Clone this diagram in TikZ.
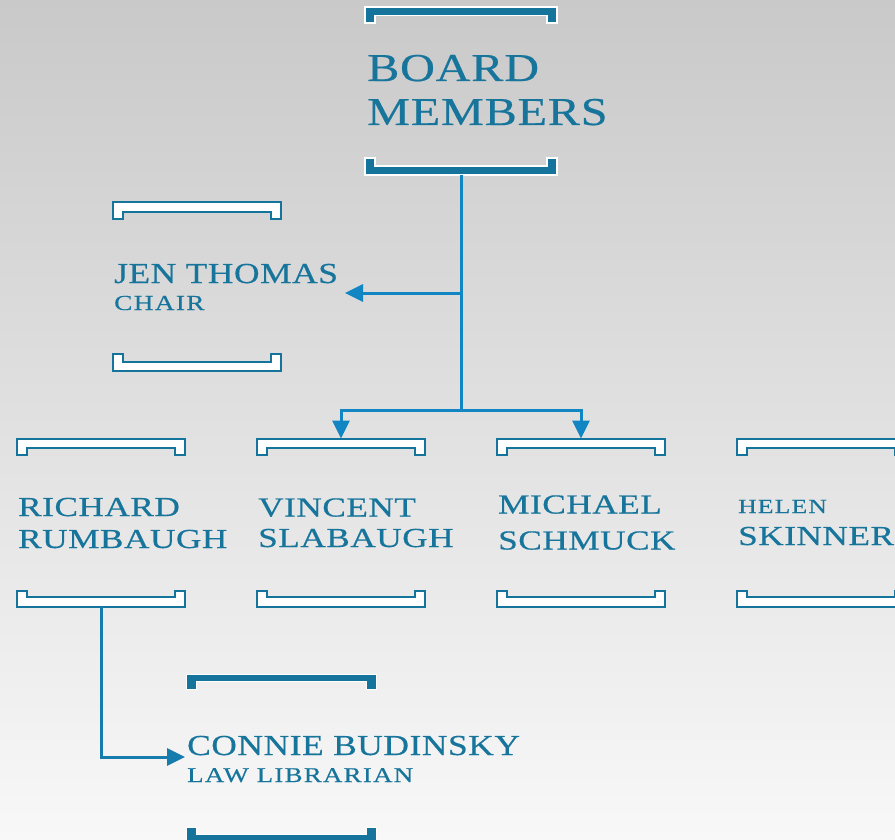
\documentclass[tikz,border=0pt]{standalone}
\usepackage{fontspec}
\newfontfamily\eng[FakeStretch=1.22,FakeBold=0.5,LetterSpace=2]{Liberation Serif}
\newfontfamily\engw[FakeStretch=1.28,FakeBold=0.5,LetterSpace=2]{Liberation Serif}
\newfontfamily\engs[FakeStretch=1.28,FakeBold=0.5,LetterSpace=6]{Liberation Serif}
\usetikzlibrary{arrows.meta}
\definecolor{bgtop}{HTML}{C9C9C9}
\definecolor{bgbot}{HTML}{F8F8F8}
\definecolor{txtteal}{HTML}{17759C}
\definecolor{brkteal}{HTML}{14749C}
\definecolor{lineblue}{HTML}{1186C2}
\definecolor{linedeep}{HTML}{167CAE}
\newcommand{\topbrk}[6]{% x1,x2,ytop,h,t,style
  \path[#6] (#1,#3) -- (#2,#3) -- (#2,#3+#4) -- (#2-10,#3+#4) -- (#2-10,#3+#5)
    -- (#1+10,#3+#5) -- (#1+10,#3+#4) -- (#1,#3+#4) -- cycle;}
\newcommand{\botbrk}[6]{% x1,x2,ybottom,h,t,style
  \path[#6] (#1,#3) -- (#2,#3) -- (#2,#3-#4) -- (#2-10,#3-#4) -- (#2-10,#3-#5)
    -- (#1+10,#3-#5) -- (#1+10,#3-#4) -- (#1,#3-#4) -- cycle;}
\begin{document}
\begin{tikzpicture}[x=1pt,y=-1pt,
  solidbrk/.style={fill=brkteal,draw=white,line width=1.4pt},
  openbrk/.style={fill=white,draw=brkteal,line width=2pt},
  plainbrk/.style={fill=brkteal,draw=white,line width=0.6pt},
  lbl/.style={anchor=base west,inner sep=0pt,text=txtteal},
  conn/.style={draw=lineblue,line width=3pt},
  arr/.style={conn,-{Triangle[length=18pt,width=17pt]}}]
\useasboundingbox (0,0) rectangle (895,840);
\begin{scope}
\clip (0,0) rectangle (895,840);
\shade[top color=bgtop,bottom color=bgbot] (0,0) rectangle (895,840);

% brackets
\topbrk{365}{557}{7}{16}{8.5}{solidbrk}
\botbrk{365}{557}{175}{17}{9}{solidbrk}
\topbrk{113}{281}{202}{17}{10}{openbrk}
\botbrk{113}{281}{371}{17}{9.5}{openbrk}
\foreach \xa in {17,257,497,737}{
  \topbrk{\xa}{\xa+168}{438.5}{16.5}{9}{openbrk}
  \botbrk{\xa}{\xa+168}{606.5}{16}{9.5}{openbrk}
}
\topbrk{186}{376}{674.5}{14.5}{7}{plainbrk}
\botbrk{186}{376}{845}{18}{11}{plainbrk}

% texts
\node[lbl,font={\eng\fontsize{39.5}{40}\selectfont}] (board1) at (367,81) {BOARD};
\node[lbl,font={\eng\fontsize{39.5}{40}\selectfont}] (board2) at (367,125) {MEMBERS};
\node[lbl,font={\eng\fontsize{29}{30}\selectfont}] (jen1) at (114,283) {JEN THOMAS};
\node[lbl,font={\engs\fontsize{21.4}{22}\selectfont}] (jen2) at (114,310) {CHAIR};
\node[lbl,font={\engw\fontsize{27.5}{28}\selectfont}] (ric1) at (18,516) {RICHARD};
\node[lbl,font={\engw\fontsize{27.5}{28}\selectfont}] (ric2) at (18,548) {RUMBAUGH};
\node[lbl,font={\engw\fontsize{27.5}{28}\selectfont}] (vin1) at (258,516.5) {VINCENT};
\node[lbl,font={\engw\fontsize{27.5}{28}\selectfont}] (vin2) at (258,547) {SLABAUGH};
\node[lbl,font={\engw\fontsize{27.5}{28}\selectfont}] (mic1) at (498,513.5) {MICHAEL};
\node[lbl,font={\engw\fontsize{27.5}{28}\selectfont}] (mic2) at (498,549.5) {SCHMUCK};
\node[lbl,font={\engs\fontsize{20}{21}\selectfont}] (hel1) at (738,513) {HELEN};
\node[lbl,font={\engw\fontsize{27.5}{28}\selectfont}] (hel2) at (738,545) {SKINNER};
\node[lbl,font={\eng\fontsize{29}{30}\selectfont}] (con1) at (187,755) {CONNIE BUDINSKY};
\node[lbl,font={\engs\fontsize{21}{22}\selectfont}] (con2) at (187,782) {LAW LIBRARIAN};

% connector anchors
\coordinate (bbot) at (461,175);
\coordinate (jpt) at (461,293);
\coordinate (jtip) at (345,293);
\coordinate (hbar) at (461,410);
\coordinate (vtip) at (341,438.5);
\coordinate (mtip) at (581,438.5);
\coordinate (rbot) at (101,606.5);
\coordinate (ctip) at (185,757);

\path[conn] (bbot) -- (hbar);
\path[arr] (jpt) -- (jtip);
\path[arr] (hbar) -| (vtip);
\path[arr] (hbar) -| (mtip);
\path[arr,draw=linedeep] (rbot) |- (ctip);
\end{scope}
\end{tikzpicture}
\end{document}
